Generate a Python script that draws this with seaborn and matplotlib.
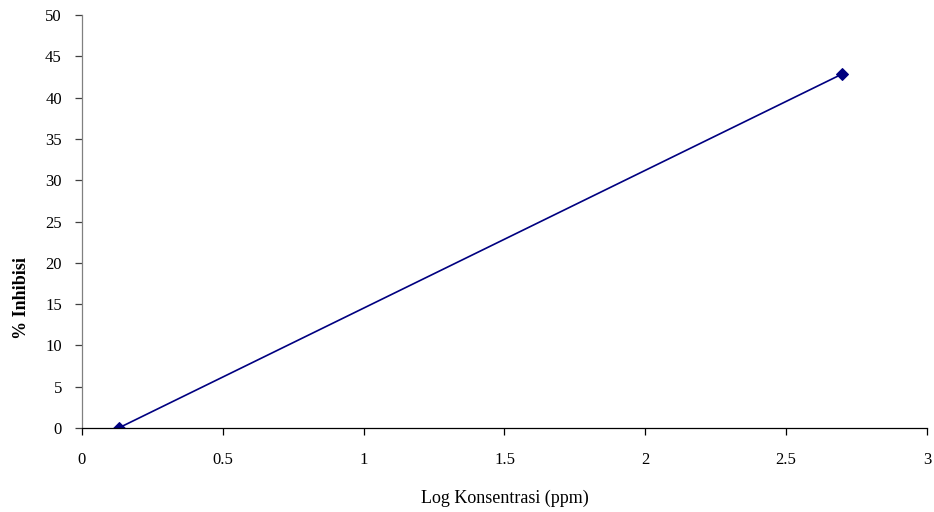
import matplotlib
matplotlib.use("Agg")
import matplotlib.pyplot as plt
import seaborn as sns
import pandas as pd

log_konsentrasi = [0.13, 2.699]
nilai_y = [0.0, 42.86]
x_ticks = [0, 0.5, 1, 1.5, 2, 2.5, 3]
y_ticks = [0, 5, 10, 15, 20, 25, 30, 35, 40, 45, 50]

sns.set_style("white")
plt.rcParams['font.family'] = ['Liberation Serif', 'DejaVu Serif']
plt.rcParams['text.color'] = 'black'
plt.rcParams['xtick.color'] = 'black'
plt.rcParams['ytick.color'] = 'black'
plt.rcParams['axes.labelcolor'] = 'black'

df = pd.DataFrame({"x": log_konsentrasi, "y": nilai_y})

fig = plt.figure(figsize=(9.34, 5.12), dpi=100)
ax = fig.add_axes([82/934, 1 - 428/512, 845/934, 413/512])
sns.lineplot(data=df, x="x", y="y", ax=ax, color="#000080", linewidth=1.2,
             marker="D", markersize=6, markeredgecolor="#000080")
ax.set_xlim(0, 3)
ax.set_ylim(0, 50)
ax.set_xticks(x_ticks)
ax.set_xticklabels([f"{t:g}" for t in x_ticks])
ax.set_yticks(y_ticks)
ax.set_yticklabels([str(t) for t in y_ticks])
for s in ["top", "right"]:
    ax.spines[s].set_visible(False)
ax.spines["bottom"].set_color("black")
ax.spines["left"].set_color("#808080")
ax.spines["bottom"].set_linewidth(0.9)
ax.spines["left"].set_linewidth(0.9)
ax.tick_params(axis="x", direction="out", length=5, width=0.9, color="black",
               labelsize=12, bottom=True, pad=12)
ax.tick_params(axis="y", direction="out", length=5, width=0.9, color="#404040",
               labelsize=12, left=True, pad=9.5)
ax.set_xlabel("Log Konsentrasi (ppm)", fontsize=13, labelpad=16)
ax.set_ylabel("% Inhibisi", fontsize=13, fontweight="bold")
ax.yaxis.set_label_coords(-0.062, 0.315)
fig.savefig("out.png", dpi=100)
